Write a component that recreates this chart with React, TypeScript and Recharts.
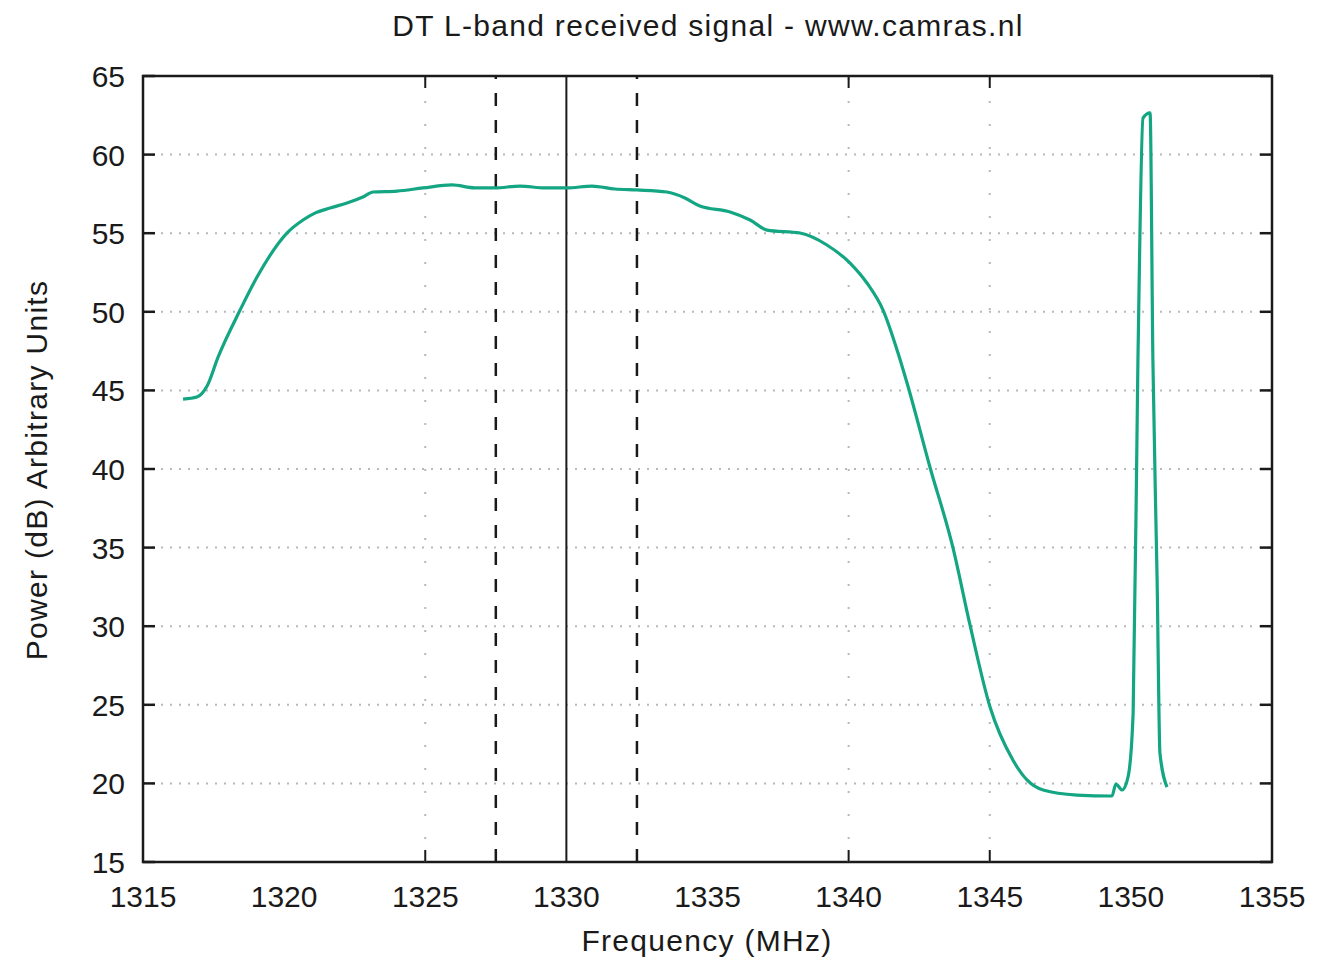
import { CartesianGrid, Line, LineChart, ReferenceArea, ReferenceLine, XAxis, YAxis } from "recharts";

// spectrum trace (MHz, dB)
const freqMHz = [
  1316.42, 1316.91, 1317.27, 1317.66, 1318.44, 1319.04, 1320.1, 1320.67, 1321.09, 1321.63,
  1322.23, 1322.79, 1323.15, 1324.0, 1324.92, 1325.95, 1326.76, 1327.47, 1328.36, 1329.24,
  1330.02, 1330.91, 1331.72, 1332.5, 1333.56, 1334.2, 1334.73, 1335.8, 1336.51, 1337.11,
  1338.28, 1339.23, 1340.05, 1340.65, 1341.22, 1341.75, 1342.07, 1342.88, 1343.7, 1344.3,
  1345.01, 1345.82, 1346.32, 1346.89, 1348.09, 1349.33, 1349.47, 1349.69, 1349.9, 1350.08,
  1350.25, 1350.43, 1350.68, 1350.78, 1350.93, 1351.03, 1351.28,
];
const powerDb = [
  44.45, 44.58, 45.28, 47.12, 50.11, 52.21, 55.01, 55.84, 56.28, 56.6,
  56.92, 57.3, 57.62, 57.68, 57.88, 58.07, 57.88, 57.88, 58.0, 57.88,
  57.88, 58.0, 57.81, 57.75, 57.62, 57.24, 56.73, 56.35, 55.84, 55.2,
  55.01, 54.25, 53.1, 51.83, 50.11, 47.38, 45.47, 40.13, 34.97, 30.08,
  24.86, 21.49, 20.22, 19.58, 19.26, 19.2, 19.96, 19.58, 20.41, 24.48,
  46.93, 62.33, 62.65, 46.93, 32.94, 21.93, 19.77,
];

const xTicks = [1315, 1320, 1325, 1330, 1335, 1340, 1345, 1350, 1355];
const yTicks = [15, 20, 25, 30, 35, 40, 45, 50, 55, 60, 65];
// only these show tic marks and a dotted vertical grid in the original
const markedFreqs = [1325, 1340, 1345];
const bandEdges = [1327.5, 1332.5];
const centreFreq = 1330;

const data = freqMHz.map((freq, i) => ({ freq, power: powerDb[i] }));

const FONT = '"Liberation Sans", Arial, sans-serif';
const INK = "#1a1a1a";
const TEAL = "#14a583";
const GRID = "#b8b8b8";
const TICK_LEN = 12;

function BottomTick({ x, y, payload }: any) {
  return (
    <g>
      {markedFreqs.includes(payload.value) && (
        <line x1={x} x2={x} y1={y} y2={y - TICK_LEN} stroke={INK} strokeWidth={2} />
      )}
      <text x={x} y={y + 45} textAnchor="middle" fontSize={30} fill={INK} fontFamily={FONT}>
        {payload.value}
      </text>
    </g>
  );
}

function TopTick({ x, y, payload }: any) {
  if (!markedFreqs.includes(payload.value)) return <g />;
  return <line x1={x} x2={x} y1={y} y2={y + TICK_LEN} stroke={INK} strokeWidth={2} />;
}

function LeftTick({ x, y, payload }: any) {
  return (
    <g>
      <line x1={x} x2={x + TICK_LEN} y1={y} y2={y} stroke={INK} strokeWidth={2.5} />
      <text x={x - 18} y={y + 11} textAnchor="end" fontSize={30} fill={INK} fontFamily={FONT}>
        {payload.value}
      </text>
    </g>
  );
}

function RightTick({ x, y }: any) {
  return <line x1={x} x2={x - TICK_LEN} y1={y} y2={y} stroke={INK} strokeWidth={2.5} />;
}

const labelStyle: React.CSSProperties = {
  position: "absolute",
  fontFamily: FONT,
  fontSize: 30,
  lineHeight: "30px",
  letterSpacing: 1.3,
  color: INK,
  whiteSpace: "nowrap",
};

export default function App() {
  return (
    <div style={{ position: "absolute", left: 0, top: 0, width: 1324, height: 960, background: "#fff", overflow: "hidden" }}>
      <LineChart width={1324} height={960} data={data} margin={{ top: 56, right: 32, bottom: 38, left: 83 }}>
        <CartesianGrid vertical={false} stroke={GRID} strokeWidth={2} strokeDasharray="2 7" />
        {markedFreqs.map((f) => (
          <ReferenceLine key={f} x={f} stroke={GRID} strokeWidth={2} strokeDasharray="2 21" />
        ))}
        <XAxis
          dataKey="freq"
          type="number"
          domain={[1315, 1355]}
          ticks={xTicks}
          height={60}
          axisLine={false}
          tickLine={false}
          tickSize={0}
          tickMargin={0}
          tick={BottomTick}
        />
        <XAxis
          xAxisId="top"
          orientation="top"
          dataKey="freq"
          type="number"
          domain={[1315, 1355]}
          ticks={xTicks}
          height={20}
          axisLine={false}
          tickLine={false}
          tickSize={0}
          tickMargin={0}
          tick={TopTick}
        />
        <YAxis
          type="number"
          domain={[15, 65]}
          ticks={yTicks}
          width={60}
          axisLine={false}
          tickLine={false}
          tickSize={0}
          tickMargin={0}
          tick={LeftTick}
        />
        <YAxis
          yAxisId="right"
          orientation="right"
          type="number"
          domain={[15, 65]}
          ticks={yTicks}
          width={20}
          axisLine={false}
          tickLine={false}
          tickSize={0}
          tickMargin={0}
          tick={RightTick}
        />
        {bandEdges.map((f) => (
          <ReferenceLine key={f} x={f} stroke={INK} strokeWidth={2.5} strokeDasharray="13 14" />
        ))}
        <ReferenceLine x={centreFreq} stroke={INK} strokeWidth={2} />
        <ReferenceArea x1={1315} x2={1355} y1={15} y2={65} fill="none" stroke={INK} strokeWidth={2.5} />
        <Line
          xAxisId="top"
          yAxisId="right"
          dataKey="power"
          stroke="none"
          dot={false}
          legendType="none"
          isAnimationActive={false}
        />
        <Line
          type="monotone"
          dataKey="power"
          stroke={TEAL}
          strokeWidth={3.2}
          dot={false}
          isAnimationActive={false}
        />
      </LineChart>
      <div style={{ ...labelStyle, left: 708, top: 11, transform: "translateX(-50%)" }}>
        DT L-band received signal - www.camras.nl
      </div>
      <div style={{ ...labelStyle, left: 707, top: 926, transform: "translateX(-50%)" }}>
        Frequency (MHz)
      </div>
      <div style={{ ...labelStyle, left: 37, top: 470, transform: "translate(-50%, -50%) rotate(-90deg)" }}>
        Power (dB) Arbitrary Units
      </div>
    </div>
  );
}
